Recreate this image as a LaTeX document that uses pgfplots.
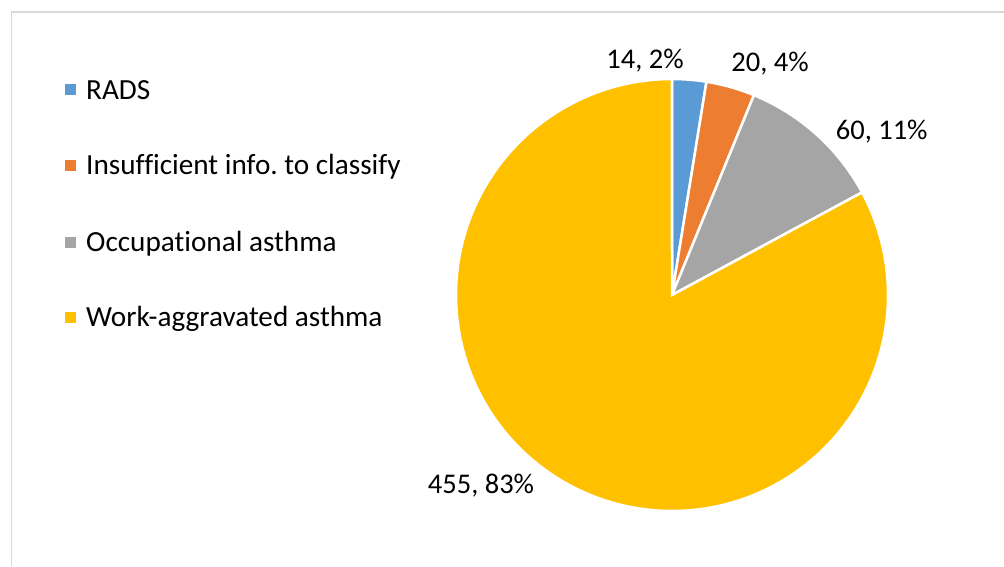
\documentclass[border=0pt]{standalone}
\usepackage{pgfplots}
\usepackage{pgfplotstable}
\pgfplotsset{compat=1.18}
\usepackage{fontspec}
\setmainfont{Carlito}[Ligatures=NoCommon]
\frenchspacing
\definecolor{cA}{HTML}{5B9BD5}
\definecolor{cB}{HTML}{ED7D31}
\definecolor{cC}{HTML}{A5A5A5}
\definecolor{cD}{HTML}{FFC000}
\definecolor{frame}{HTML}{D9D9D9}
\pgfplotstableread{
name value
RADS 14
Insufficient 20
Occupational 60
Work 455
}\piedata
\pgfplotstablegetelem{0}{value}\of\piedata \let\vA\pgfplotsretval
\pgfplotstablegetelem{1}{value}\of\piedata \let\vB\pgfplotsretval
\pgfplotstablegetelem{2}{value}\of\piedata \let\vC\pgfplotsretval
\pgfplotstablegetelem{3}{value}\of\piedata \let\vD\pgfplotsretval
\pgfmathsetmacro\tot{\vA+\vB+\vC+\vD}
\pgfmathsetmacro\aO{90}
\pgfmathsetmacro\aA{\aO-\vA/\tot*360}
\pgfmathsetmacro\aB{\aA-\vB/\tot*360}
\pgfmathsetmacro\aC{\aB-\vC/\tot*360}
\pgfmathsetmacro\aD{\aC-\vD/\tot*360}
\def\cx{672}
\def\cy{271}
\def\rr{216}
\newcommand\lbl{\fontsize{28.5}{34}\selectfont}
\newcommand\leg{\fontsize{29.2}{34}\selectfont}
\begin{document}
\begin{tikzpicture}
\begin{axis}[
  scale only axis, width=1004pt, height=566pt,
  xmin=0, xmax=1004, ymin=0, ymax=566,
  hide axis, clip=false,
]
\addplot[fill=cA, draw=white, line width=2.5pt, domain=\aA:\aO, samples=40]
  ({\cx+\rr*cos(x)},{\cy+\rr*sin(x)}) -- (axis cs:\cx,\cy) -- cycle;
\addplot[fill=cB, draw=white, line width=2.5pt, domain=\aB:\aA, samples=40]
  ({\cx+\rr*cos(x)},{\cy+\rr*sin(x)}) -- (axis cs:\cx,\cy) -- cycle;
\addplot[fill=cC, draw=white, line width=2.5pt, domain=\aC:\aB, samples=60]
  ({\cx+\rr*cos(x)},{\cy+\rr*sin(x)}) -- (axis cs:\cx,\cy) -- cycle;
\addplot[fill=cD, draw=white, line width=2.5pt, domain=\aD:\aC, samples=240]
  ({\cx+\rr*cos(x)},{\cy+\rr*sin(x)}) -- (axis cs:\cx,\cy) -- cycle;
\draw[frame, line width=1.5pt] (axis cs:11.5,0) -- (axis cs:11.5,554) -- (axis cs:1004,554);
% legend
\begin{scope}[every node/.style={font=\leg, inner sep=0pt, anchor=base west}]
\fill[cA] (axis cs:65,470.5) rectangle (axis cs:76,481.5);
\node at (axis cs:86,466.7) {RADS};
\fill[cB] (axis cs:65,395) rectangle (axis cs:76,406);
\node at (axis cs:86,391.7) {Insufficient info. to classify};
\fill[cC] (axis cs:65,318.3) rectangle (axis cs:76,329.3);
\node at (axis cs:86,314.7) {Occupational asthma};
\fill[cD] (axis cs:65,243) rectangle (axis cs:76,254);
\node at (axis cs:86,239.3) {Work-aggravated asthma};
\end{scope}
\begin{scope}[every node/.style={font=\lbl, inner sep=0pt, anchor=base}]
\node at (axis cs:645,497.7) {14, 2\%};
\node at (axis cs:770,494.3) {20, 4\%};
\node at (axis cs:881.7,426.7) {60, 11\%};
\node at (axis cs:481,72.7) {455, 83\%};
\end{scope}
\end{axis}
\pgfresetboundingbox
\path (0,0) rectangle (1004pt,566pt);
\end{tikzpicture}
\end{document}
